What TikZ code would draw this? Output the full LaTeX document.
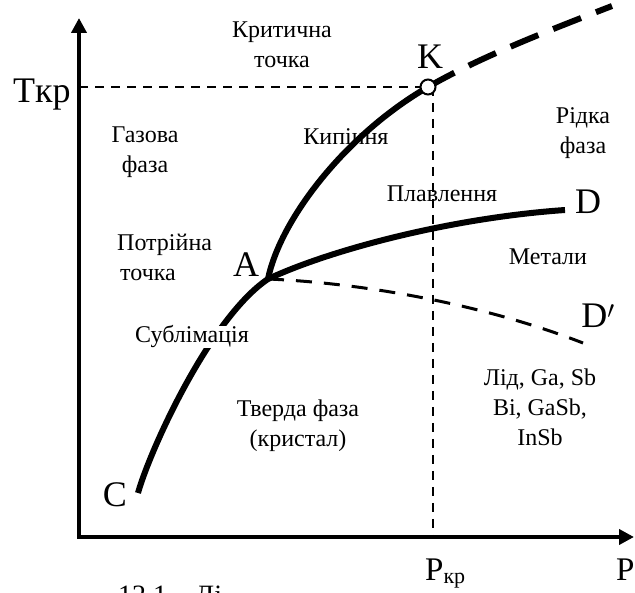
\documentclass[tikz,border=0pt]{standalone}
\usepackage{fontspec}
\setmainfont{Liberation Serif}
\usetikzlibrary{arrows.meta}
\begin{document}
\begin{tikzpicture}[x=1pt,y=-1pt,
  lbl/.style={font=\fontsize{24}{30}\selectfont, inner sep=1pt, align=center},
  big/.style={font=\fontsize{36}{40}\selectfont, inner sep=0pt},
  axisline/.style={line width=4pt, line join=miter, {Triangle[length=15pt,width=15pt]}-{Triangle[length=15pt,width=15pt]}},
  phase/.style={line width=6pt},
  guide/.style={line width=2.5pt, dash pattern=on 9pt off 7pt},
  ]
\useasboundingbox (0,0) rectangle (635,593);
% axes
\coordinate (ytop) at (79,18);
\coordinate (O) at (79,537);
\coordinate (xend) at (634,537);
\draw[axisline] (ytop) -- (O) -- (xend);
% key points
\coordinate (A) at (268,279);
\coordinate (C) at (138,493);
\coordinate (D) at (565,210);
\coordinate (Dp) at (583,343);
\coordinate (Kend) at (612,6);
\coordinate (Kp) at (433,537);
\coordinate (Ky) at (79,87);
% guides
\draw[guide] (Ky) -- (428,87);
\draw[guide] (433,87) -- (Kp);
% curves
\draw[phase] (C) .. controls (150,450) and (210,318) .. (A);
\draw[phase] (A) .. controls (280,220) and (345,135) .. (428,87);
\draw[phase, dash pattern=on 30pt off 16pt] (428,87) .. controls (480,57) and (550,30) .. (Kend);
\draw[phase] (A) .. controls (330,250) and (450,218) .. (D);
\draw[line width=3pt, dash pattern=on 16pt off 12pt] (A) .. controls (360,283) and (480,303) .. (Dp);
\node[draw, circle, fill=white, line width=2pt, minimum size=15pt, inner sep=0pt] (K) at (428,87) {};
% big labels
\node[big, anchor=base west] (Tkr) at (13,103) {Tкр};
\node[big] (Klbl) at (430,57) {K};
\node[big] (Albl) at (246,265) {A};
\node[big] (Clbl) at (115,495) {C};
\node[big] (Dlbl) at (588,202) {D};
\node[big] (Dplbl) at (598,316) {D$'$};
\node[font=\fontsize{33}{36}\selectfont, inner sep=0pt, anchor=base west] (Pkr) at (425,580) {P\textsubscript{\fontsize{22}{24}\selectfont кр}};
\node[font=\fontsize{33}{36}\selectfont, inner sep=0pt, anchor=base west] (Plbl) at (616,580) {P};
% region labels
\node[lbl] (crit) at (282,45) {Критична\\точка};
\node[lbl] (gas) at (145,152) {Газова\\фаза};
\node[lbl] (boil) at (346,137) {Кипіння};
\node[lbl] (liq) at (583,133) {Рідка\\фаза};
\node[lbl] (melt) at (442,194) {Плавлення};
\node[lbl, align=left, anchor=west] (triple) at (116,257) {Потрійна\\\hspace{3pt}точка};
\node[lbl] (metal) at (548,257) {Метали};
\node[lbl, fill=white, inner sep=0pt] (subl) at (192,337) {Сублімація};
\node[lbl] (solid) at (298,426) {Тверда фаза\\(кристал)};
\node[lbl] (ice) at (540,407) {Лід, Ga, Sb\\Bi, GaSb,\\InSb};
% cut caption
\node[font=\fontsize{28}{30}\selectfont, inner sep=0pt, anchor=base west] (cap) at (118,604) {12.1 – Ді};
\end{tikzpicture}
\end{document}
